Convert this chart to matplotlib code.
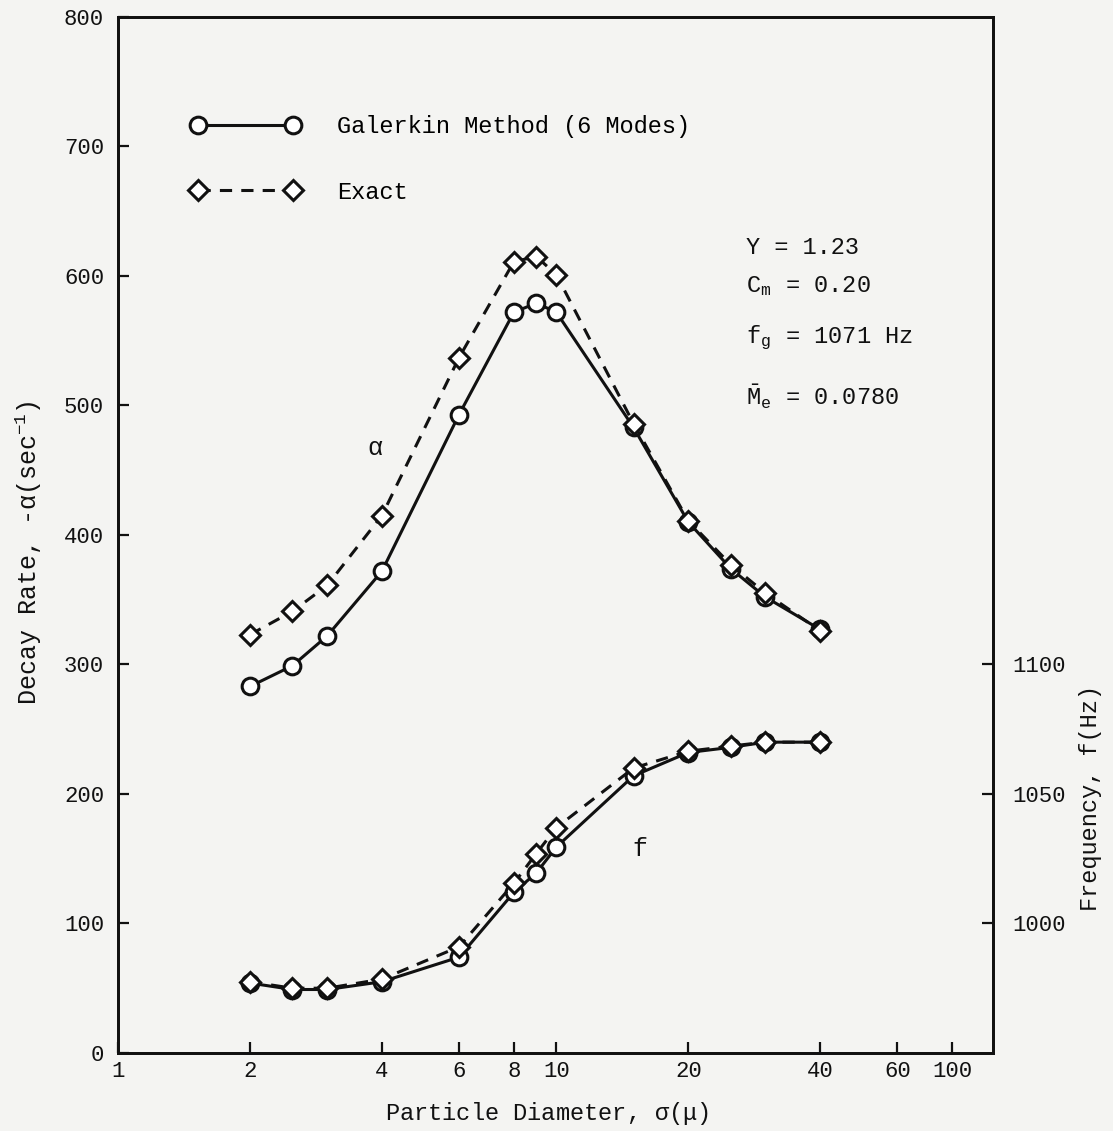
import matplotlib.pyplot as plt
import numpy as np

plt.rcParams['font.family'] = ['Liberation Mono', 'DejaVu Sans Mono']
plt.rcParams['mathtext.fontset'] = 'custom'
plt.rcParams['mathtext.rm'] = 'Liberation Mono'
plt.rcParams['mathtext.it'] = 'Liberation Mono'

# particle diameter (micron)
diam = [2, 2.5, 3, 4, 6, 8, 9, 10, 15, 20, 25, 30, 40]

# decay rate -alpha (1/sec)
alpha_galerkin = [283, 299, 322, 372, 493, 572, 579, 572, 483, 410, 374, 352, 327]
alpha_exact = [323, 341, 361, 415, 537, 611, 615, 601, 486, 411, 377, 355, 326]

# frequency f (Hz)
freq_galerkin = [977, 974.5, 974.5, 977.5, 987, 1012, 1019.5, 1029.5, 1057, 1066, 1068, 1070, 1070]
freq_exact = [977.5, 975, 975, 978.5, 991, 1015.5, 1027, 1037, 1060, 1066.5, 1068.5, 1070, 1070]

x_ticks = [1, 2, 4, 6, 8, 10, 20, 40, 60, 80]
x_ticklabels = ['1', '2', '4', '6', '8', '10', '20', '40', '60', '100']
left_ticks = [0, 100, 200, 300, 400, 500, 600, 700, 800]
right_ticks = [1000, 1050, 1100]

params = [('Y = 1.23', 0.777), ('C$_m$ = 0.20', 0.740),
          ('f$_g$ = 1071 Hz', 0.690), (r'$\bar{\rm M}_e$ = 0.0780', 0.633)]

bg = '#f4f4f2'
ink = '#111111'

fig = plt.figure(figsize=(11.13, 11.31), dpi=100, facecolor=bg)
ax = fig.add_axes([0.106, 0.069, 0.786, 0.916], facecolor=bg)
ax2 = ax.twinx()

line_kw = dict(color=ink, lw=2.2, markersize=12, markeredgewidth=2.2,
               markerfacecolor='white', markeredgecolor=ink)

ax.plot(diam, alpha_galerkin, marker='o', ls='-', label='Galerkin Method (6 Modes)', **line_kw)
ax.plot(diam, alpha_exact, marker='D', ls=(0, (4, 3)), label='Exact',
        **{**line_kw, 'markersize': 10.5})
ax2.plot(diam, freq_galerkin, marker='o', ls='-', **line_kw)
ax2.plot(diam, freq_exact, marker='D', ls=(0, (4, 3)),
         **{**line_kw, 'markersize': 10.5})

ax.set_xscale('log')
ax.set_xlim(1, 99)
ax.set_ylim(0, 800)
ax2.set_ylim(950, 1350)

ax.set_xticks(x_ticks)
ax.set_xticklabels(x_ticklabels)
ax.xaxis.set_minor_locator(plt.NullLocator())
ax.set_yticks(left_ticks)
ax2.set_yticks(right_ticks)

ax.tick_params(axis='both', direction='in', length=8, width=1.6, labelsize=16,
               colors=ink, top=False)
ax.tick_params(axis='y', pad=10)
ax.tick_params(axis='x', pad=6)
ax2.tick_params(axis='y', direction='in', length=8, width=1.6, labelsize=16,
                colors=ink, pad=14)

for a in (ax, ax2):
    for s in a.spines.values():
        s.set_linewidth(2)
        s.set_color(ink)

ax.set_xlabel(r'Particle Diameter, $\sigma$($\mu$)', fontsize=17, color=ink)
ax.set_ylabel(r'Decay Rate, -$\alpha$(sec$^{-1}$)', fontsize=18, color=ink)
ax2.set_ylabel('Frequency, f(Hz)', fontsize=17, color=ink)
ax.xaxis.set_label_coords(0.49, -0.045)
ax.yaxis.set_label_coords(-0.085, 0.483)
ax2.yaxis.set_label_coords(1.099, 0.246)

for txt, yy in params:
    ax.text(0.718, yy, txt, transform=ax.transAxes, fontsize=17, va='center',
            ha='left', color=ink)

ax.text(0.285, 0.577, r'$\alpha$', transform=ax.transAxes, fontsize=18, color=ink)
ax.text(0.588, 0.19, 'f', transform=ax.transAxes, fontsize=18, color=ink)

ax.legend(loc='upper left', bbox_to_anchor=(0.083, 0.905), borderaxespad=0,
          borderpad=0, frameon=False, numpoints=2, handlelength=4.62,
          handletextpad=1.6, labelspacing=1.79, fontsize=17)

fig.savefig('out.png', dpi=100, facecolor=bg)
